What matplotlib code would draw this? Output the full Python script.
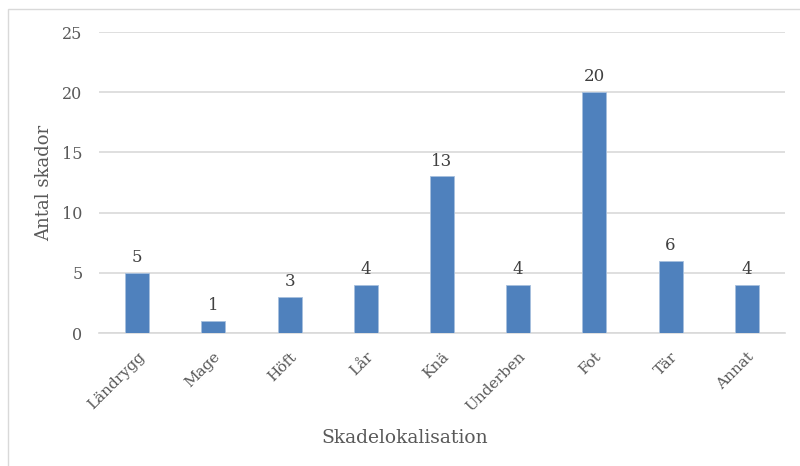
import matplotlib.pyplot as plt
from matplotlib.patches import Rectangle

# Skador per kroppsdel
lokaler = ["Ländrygg", "Mage", "Höft", "Lår", "Knä", "Underben", "Fot", "Tär", "Annat"]
antal = [5, 1, 3, 4, 13, 4, 20, 6, 4]
yticks = [0, 5, 10, 15, 20, 25]

text_color = "#595959"
bar_color = "#4F81BD"
grid_color = "#D9D9D9"

plt.rcParams["font.family"] = ["DejaVu Serif"]

fig = plt.figure(figsize=(8, 4.66), dpi=100)
ax = fig.add_axes([0.124, 0.2854, 0.857, 0.6459])

x = range(len(lokaler))
bars = ax.bar(x, antal, width=0.315, color=bar_color, edgecolor="#A7C0DE",
              linewidth=0.6, zorder=3)
for b, v in zip(bars, antal):
    ax.annotate(str(v), (b.get_x() + b.get_width() / 2, v), xytext=(0, 5),
                textcoords="offset points", ha="center", va="bottom",
                fontsize=12, color="#404040")

ax.set_xlim(-0.5, len(lokaler) - 0.5)
ax.set_ylim(0, 25)
ax.set_yticks(yticks)
ax.set_xticks(list(x))
ax.set_xticklabels(lokaler, rotation=45, ha="right", rotation_mode="anchor")
ax.tick_params(axis="y", length=0, labelsize=11.5, colors=text_color, pad=12)
ax.tick_params(axis="x", length=0, labelsize=11, colors=text_color, pad=12)
ax.yaxis.grid(True, color=grid_color, linewidth=1.2, zorder=0)
for s in ["top", "right", "left"]:
    ax.spines[s].set_visible(False)
ax.spines["bottom"].set_color(grid_color)
ax.spines["bottom"].set_linewidth(1.2)

ax.set_ylabel("Antal skador", fontsize=13, color=text_color)
ax.yaxis.set_label_coords(-0.067, 0.5)
ax.set_xlabel("Skadelokalisation", fontsize=13.5, color=text_color)
ax.xaxis.set_label_coords(0.446, -0.32)

# ram runt diagrammet
fig.patches.append(Rectangle((8 / 800, -0.1), 1.2, 1 - 9 / 466 + 0.1,
                             transform=fig.transFigure, fill=False,
                             edgecolor="#D9D9D9", linewidth=1))

fig.savefig("out.png", dpi=100, facecolor="white")
